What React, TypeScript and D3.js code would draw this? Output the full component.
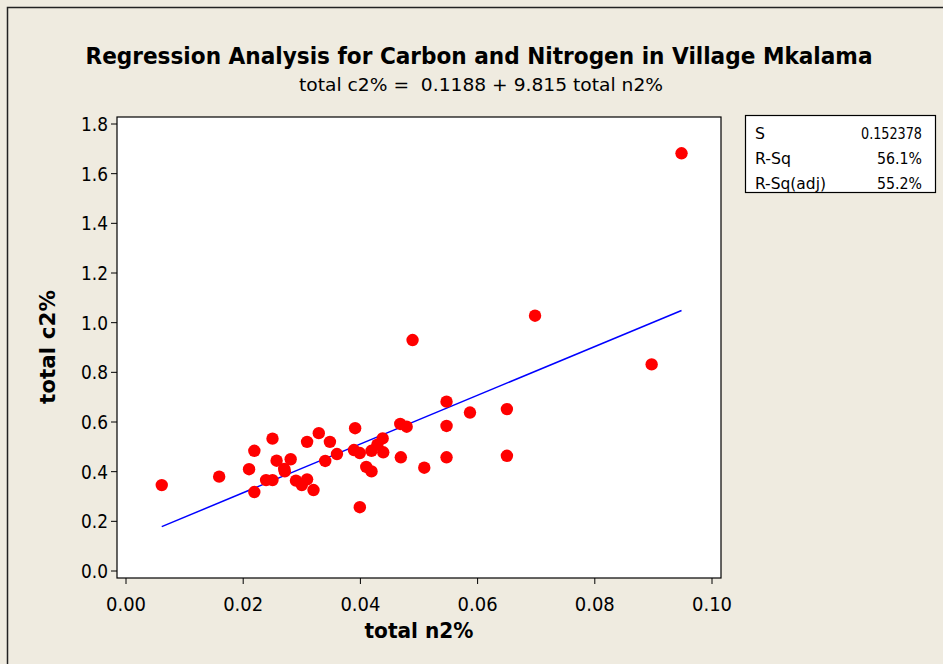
import React from "react";
import * as d3 from "d3";

const W = 943;
const H = 664;

const title = "Regression Analysis for Carbon and Nitrogen in Village Mkalama";
const subtitle = "total c2% =  0.1188 + 9.815 total n2%";
const xLabel = "total n2%";
const yLabel = "total c2%";

const intercept = 0.1188;
const slope = 9.815;

const statLabels = ["S", "R-Sq", "R-Sq(adj)"];
const statValues = ["0.152378", "56.1%", "55.2%"];

const xTicks = [0, 0.02, 0.04, 0.06, 0.08, 0.1];
const yTicks = [0, 0.2, 0.4, 0.6, 0.8, 1.0, 1.2, 1.4, 1.6, 1.8];

const nitrogen = [
  0.0061, 0.0159, 0.021, 0.0219, 0.0219, 0.0239, 0.025, 0.025, 0.0257, 0.027,
  0.0271, 0.0281, 0.029, 0.03, 0.0309, 0.0309, 0.032, 0.0329, 0.034, 0.0348,
  0.036, 0.0391, 0.0389, 0.0399, 0.0399, 0.041, 0.0419, 0.0419, 0.0429, 0.0438,
  0.0439, 0.0468, 0.0479, 0.0469, 0.0489, 0.0509, 0.0547, 0.0547, 0.0547, 0.0587,
  0.065, 0.065, 0.0698, 0.0897, 0.0948,
];
const carbon = [
  0.346, 0.38, 0.41, 0.484, 0.318, 0.366, 0.366, 0.533, 0.444, 0.411,
  0.401, 0.45, 0.364, 0.346, 0.369, 0.52, 0.326, 0.555, 0.443, 0.52,
  0.471, 0.575, 0.487, 0.475, 0.257, 0.419, 0.401, 0.484, 0.509, 0.534,
  0.478, 0.592, 0.581, 0.458, 0.93, 0.416, 0.682, 0.584, 0.458, 0.638,
  0.652, 0.464, 1.028, 0.832, 1.682,
];

const font = "'DejaVu Sans', Verdana, sans-serif";

export default function App() {
  const plot = { left: 117, right: 721, top: 117, bottom: 578 };
  const x = d3.scaleLinear().domain([0, 0.1]).range([126, 712]);
  const y = d3.scaleLinear().domain([0, 1.8]).range([571, 124]);

  const ext = d3.extent(nitrogen) as [number, number];
  const fit = d3
    .line<number>()
    .x((d) => x(d))
    .y((d) => y(intercept + slope * d));

  return (
    <svg
      width={W}
      height={H}
      style={{ position: "absolute", left: 0, top: 0, display: "block" }}
      fontFamily={font}
    >
      <rect x={0} y={0} width={W} height={H} fill="#EFEBE0" />
      <rect x={7.5} y={7.5} width={W + 20} height={H + 20} fill="none" stroke="#222" strokeWidth={1.5} />

      <text x={479} y={64} textAnchor="middle" fontSize={23} fontWeight="bold" fill="#000"
        textLength={787} lengthAdjust="spacingAndGlyphs">{title}</text>
      <text x={481} y={91} textAnchor="middle" fontSize={18} fill="#000"
        textLength={364} lengthAdjust="spacingAndGlyphs" style={{ whiteSpace: "pre" }}>{subtitle}</text>

      <rect x={plot.left} y={plot.top} width={plot.right - plot.left} height={plot.bottom - plot.top}
        fill="#fff" stroke="#000" strokeWidth={1.2} />

      {yTicks.map((t) => (
        <g key={"y" + t}>
          <line x1={plot.left - 6} x2={plot.left} y1={y(t)} y2={y(t)} stroke="#000" strokeWidth={1} />
          <text x={plot.left - 9} y={y(t) + 7} textAnchor="end" fontSize={19} fill="#000"
            textLength={27} lengthAdjust="spacingAndGlyphs">{t.toFixed(1)}</text>
        </g>
      ))}
      {xTicks.map((t) => (
        <g key={"x" + t}>
          <line x1={x(t)} x2={x(t)} y1={plot.bottom} y2={plot.bottom + 6} stroke="#000" strokeWidth={1} />
          <text x={x(t)} y={611} textAnchor="middle" fontSize={19} fill="#000"
            textLength={40} lengthAdjust="spacingAndGlyphs">{t.toFixed(2)}</text>
        </g>
      ))}

      <text x={419} y={638} textAnchor="middle" fontSize={21} fontWeight="bold" fill="#000"
        textLength={109} lengthAdjust="spacingAndGlyphs">{xLabel}</text>
      <text transform={`translate(55,347) rotate(-90)`} textAnchor="middle" fontSize={21} fontWeight="bold" fill="#000"
        textLength={114} lengthAdjust="spacingAndGlyphs">{yLabel}</text>

      <path d={fit(ext) || ""} fill="none" stroke="#0000FF" strokeWidth={1.5} />

      {nitrogen.map((n, i) => (
        <circle key={i} cx={x(n)} cy={y(carbon[i])} r={6.2} fill="#FF0000" />
      ))}

      <rect x={745.5} y={115.5} width={190} height={77} fill="#fff" stroke="#000" strokeWidth={1.2} />
      {statLabels.map((s, i) => (
        <g key={s}>
          <text x={755} y={139 + i * 25} fontSize={15} fill="#000"
            textLength={[10, 36, 71][i]} lengthAdjust="spacingAndGlyphs">{s}</text>
          <text x={922} y={139 + i * 25} fontSize={15} textAnchor="end" fill="#000"
            textLength={[61, 45, 45][i]} lengthAdjust="spacingAndGlyphs">{statValues[i]}</text>
        </g>
      ))}
    </svg>
  );
}
